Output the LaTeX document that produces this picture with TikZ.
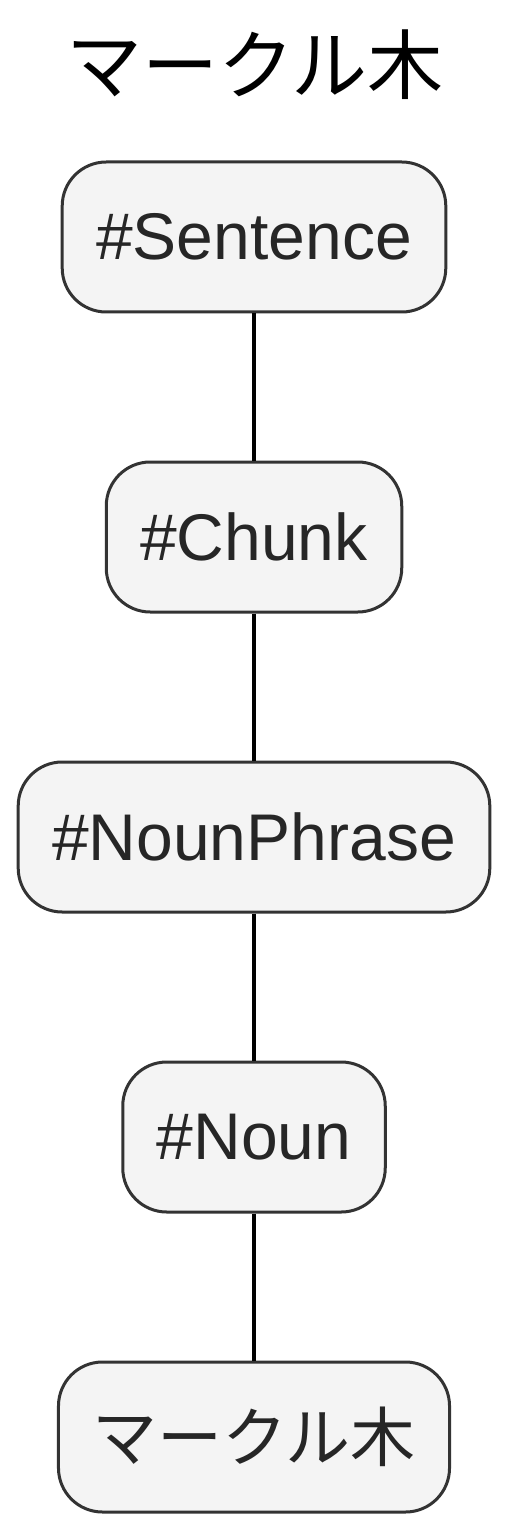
\documentclass[tikz,border=0pt]{standalone}
\usepackage{fontspec}
\setmainfont{Liberation Sans}
\newfontfamily\jpfont{Noto Sans CJK JP}
\usetikzlibrary{positioning}
\definecolor{cBox}{RGB}{244,244,244}
\definecolor{cEdge}{RGB}{51,51,51}
\definecolor{cText}{RGB}{38,38,38}

\begin{document}
\begin{tikzpicture}[x=0.5pt, y=-0.5pt,
    tag/.style={draw=cEdge, line width=1.5pt, fill=cBox, rounded corners=22pt,
      minimum height=75pt, inner xsep=17pt, text=cText,
      font=\fontsize{33}{38}\selectfont}]
  \useasboundingbox (0,0) rectangle (508,1529);
  \node (title) at (255,65) {\jpfont\fontsize{38}{42}\selectfont マークル木};
  \foreach \n/\t/\y in {sent/\#Sentence/237, chunk/\#Chunk/537,
      np/\#NounPhrase/837, noun/\#Noun/1137, leaf/{\jpfont\fontsize{32.5}{38}\selectfont マークル木}/1437} {
    \node[tag] (\n) at (254,\y) {\t};
  }
  \foreach \a/\b in {sent/chunk, chunk/np, np/noun, noun/leaf} {
    \draw[line width=1.9pt] (\a) -- (\b);
  }
\end{tikzpicture}
\end{document}
